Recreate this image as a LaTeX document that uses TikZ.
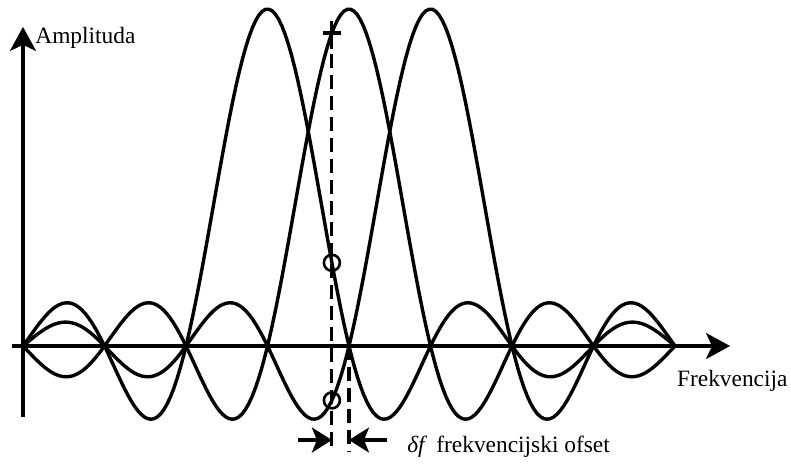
\documentclass[tikz,border=0pt]{standalone}
\usepackage{fontspec}
\setmainfont{Liberation Serif}
\usetikzlibrary{arrows.meta}

\begin{document}
\begin{tikzpicture}[
  x=40.75pt, y=168.5pt,
  font=\fontsize{11.7}{14}\selectfont,
  declare function={sinc(\t)=sin(deg(pi*\t))/(pi*\t);},
  axis/.style={line width=1.7pt, -{Stealth[length=12pt, width=13pt, inset=3pt]}},
  curve/.style={line width=1.7pt, domain=0:8, samples=200},
  offset/.style={line width=1.6pt, dash pattern=on 7pt off 3.5pt},
  marker/.style={circle, draw, line width=1.3pt, minimum size=8pt, inner sep=0pt},
  arrow/.style={line width=1.6pt, -{Stealth[length=10pt, width=12.5pt, inset=2.5pt]}}
]
\useasboundingbox (-0.2822,-0.3561) rectangle (9.423,1.0267);

\coordinate (ybot) at (0,-0.211);
\coordinate (ytop) at (0,0.947);
\coordinate (xleft) at (-0.135,0);
\coordinate (xright) at (8.675,0);
\draw[axis] (ybot) -- (ytop);
\draw[axis] (xleft) -- (xright);

\foreach \c in {3,4,5}
  \draw[curve] plot (\x,{sinc(\x-\c)});

\coordinate (tick) at (3.79,{sinc(-0.21)});
\coordinate (dbot) at (3.79,-0.315);
\coordinate (zero) at (4,0);
\coordinate (zbot) at (4,-0.315);
\draw[offset] (tick) -- (dbot);
\draw[offset] (zero) -- (zbot);
\draw[line width=1.6pt] ([xshift=-4.5pt]tick) -- ([xshift=4.5pt]tick)
  ([yshift=6pt]tick) -- ([yshift=-8pt]tick);
\node[marker] (hitA) at (3.79,{sinc(0.79)}) {};
\node[marker] (hitC) at (3.79,{sinc(-1.21)}) {};

\coordinate (lfrom) at (3.374,-0.279);
\coordinate (lto) at (3.79,-0.279);
\coordinate (rfrom) at (4.466,-0.279);
\coordinate (rto) at (4,-0.279);
\draw[arrow] (lfrom) -- (lto);
\draw[arrow] (rfrom) -- (rto);

\node[anchor=west, inner sep=0pt] (offlabel) at (4.71,-0.30) {{\itshape δf}\enspace frekvencijski ofset};
\node[anchor=base west, inner sep=0pt] (ylabel) at (0.147,0.899) {Amplituda};
\node[anchor=base west, inner sep=0pt] (xlabel) at (8.02,-0.119) {Frekvencija};
\end{tikzpicture}
\end{document}
